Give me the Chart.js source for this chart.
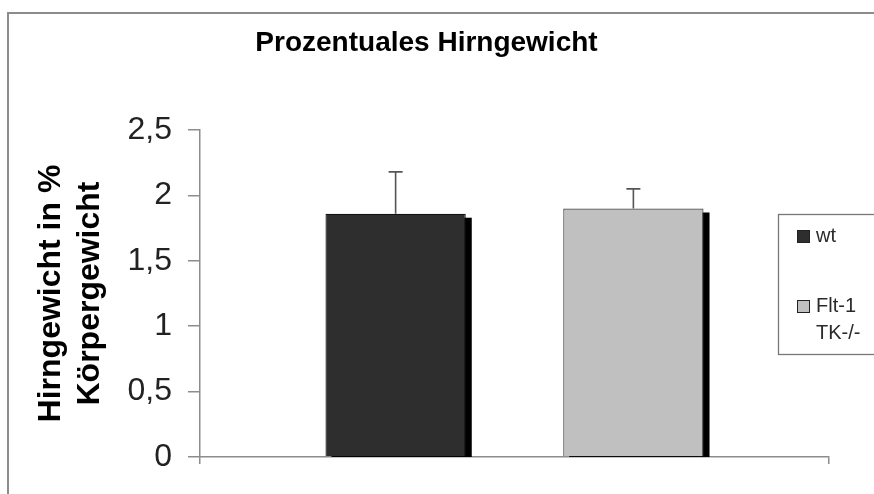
<!DOCTYPE html>
<html>
<head>
<meta charset="utf-8">
<script src="https://cdn.jsdelivr.net/npm/chart.js@4/dist/chart.umd.min.js"></script>
<style>
  html, body { margin: 0; padding: 0; background: #fff; overflow: hidden; }
  #wrap { position: relative; width: 874px; height: 494px; }
  #frame { position: absolute; left: 7px; top: 12px; width: 900px; height: 600px;
           border-left: 2px solid #8c8c8c; border-top: 2px solid #8c8c8c; box-sizing: border-box; }
  canvas { position: absolute; left: 0; top: 0; }
</style>
</head>
<body>
<div id="wrap">
  <div id="frame"></div>
  <canvas id="c" width="874" height="494"></canvas>
</div>
<script>
// ---- data ----
const categories = [''];
const seriesNames = ['wt', 'Flt-1 TK-/-'];
const legendLines = [['wt'], ['Flt-1', 'TK-/-']];
const meanValues = [1.86, 1.90];
const errorValues = [0.32, 0.15];
const seriesColors = ['#2e2e2e', '#c0c0c0'];
const seriesBorders = ['#111111', '#444444'];
const yTicks = [0, 0.5, 1, 1.5, 2, 2.5];
const yTickLabels = ['0', '0,5', '1', '1,5', '2', '2,5'];
const chartTitle = 'Prozentuales Hirngewicht';
const yAxisTitle = ['Hirngewicht in %', 'Körpergewicht'];

const shadowPlugin = {
  id: 'shadow',
  beforeDatasetsDraw(chart) {
    const ctx = chart.ctx;
    const yScale = chart.scales.y;
    const base = yScale.getPixelForValue(0);
    ctx.save();
    ctx.fillStyle = '#000';
    chart.data.datasets.forEach((ds, i) => {
      chart.getDatasetMeta(i).data.forEach(bar => {
        const w = bar.width;
        ctx.fillRect(bar.x - w / 2 + 6, bar.y + 4, w, base - bar.y - 4);
      });
    });
    ctx.restore();
  }
};

const errorPlugin = {
  id: 'errbars',
  afterDatasetsDraw(chart) {
    const ctx = chart.ctx;
    const yScale = chart.scales.y;
    ctx.save();
    ctx.strokeStyle = '#555';
    ctx.lineWidth = 1.6;
    chart.data.datasets.forEach((ds, i) => {
      chart.getDatasetMeta(i).data.forEach((bar, j) => {
        const top = yScale.getPixelForValue(ds.data[j] + ds.errors[j]);
        ctx.beginPath();
        ctx.moveTo(bar.x, bar.y);
        ctx.lineTo(bar.x, top);
        ctx.moveTo(bar.x - 7, top);
        ctx.lineTo(bar.x + 7, top);
        ctx.stroke();
      });
    });
    ctx.restore();
  }
};

const legendPlugin = {
  id: 'boxLegend',
  afterDraw(chart) {
    const ctx = chart.ctx;
    ctx.save();
    ctx.fillStyle = '#fff';
    ctx.fillRect(778, 214, 120, 140);
    ctx.strokeStyle = '#777';
    ctx.lineWidth = 1.3;
    ctx.strokeRect(778.5, 214.5, 120, 140);
    ctx.font = '20px "Liberation Sans", Arial, sans-serif';
    ctx.textBaseline = 'middle';
    const rowY = [236, 306];
    chart.data.datasets.forEach((ds, i) => {
      const y = rowY[i];
      ctx.fillStyle = ds.backgroundColor;
      ctx.fillRect(797, y - 6, 13, 13);
      ctx.strokeStyle = '#222';
      ctx.lineWidth = 1;
      ctx.strokeRect(797.5, y - 5.5, 12, 12);
      ctx.fillStyle = '#2a2a2a';
      legendLines[i].forEach((t, k) => {
        ctx.fillText(t, 816, y + k * 27);
      });
    });
    ctx.restore();
  }
};

new Chart(document.getElementById('c'), {
  type: 'bar',
  data: {
    labels: categories,
    datasets: seriesNames.map((name, i) => ({
      label: name,
      data: [meanValues[i]],
      errors: [errorValues[i]],
      backgroundColor: seriesColors[i],
      borderColor: seriesBorders[i],
      borderWidth: 1.2,
      categoryPercentage: 0.756,
      barPercentage: 0.59
    }))
  },
  options: {
    responsive: false,
    animation: false,
    devicePixelRatio: 1,
    layout: { padding: { left: 24, right: 45, top: 0, bottom: 30 } },
    plugins: {
      legend: { display: false },
      tooltip: { enabled: false },
      title: {
        display: true,
        text: chartTitle,
        color: '#000',
        font: { family: '"Liberation Sans", Arial, sans-serif', size: 28, weight: 'bold', lineHeight: 1.2 },
        padding: { top: 26, bottom: 70.4 }
      }
    },
    scales: {
      x: {
        offset: true,
        grid: { offset: true, drawOnChartArea: false, drawTicks: true, tickLength: 7, color: '#8c8c8c', lineWidth: 1.5 },
        border: { color: '#8c8c8c', width: 1.5 },
        ticks: { display: false }
      },
      y: {
        min: 0, max: 2.5,
        afterBuildTicks(scale) { scale.ticks = yTicks.map(v => ({ value: v })); },
        afterFit(scale) { scale.width = 176; },
        grid: { drawOnChartArea: false, drawTicks: true, tickLength: 12, color: '#8c8c8c', lineWidth: 1.5 },
        border: { color: '#8c8c8c', width: 1.5 },
        ticks: {
          padding: 16,
          color: '#222',
          font: { family: '"Liberation Sans", Arial, sans-serif', size: 32 },
          callback: (v) => yTickLabels[yTicks.indexOf(v)]
        },
        title: {
          display: true,
          text: yAxisTitle,
          color: '#000',
          font: { family: '"Liberation Sans", Arial, sans-serif', size: 32, weight: 'bold', lineHeight: 1.22 },
          padding: { top: 8, bottom: 0 }
        }
      }
    }
  },
  plugins: [shadowPlugin, errorPlugin, legendPlugin]
});
</script>
</body>
</html>
